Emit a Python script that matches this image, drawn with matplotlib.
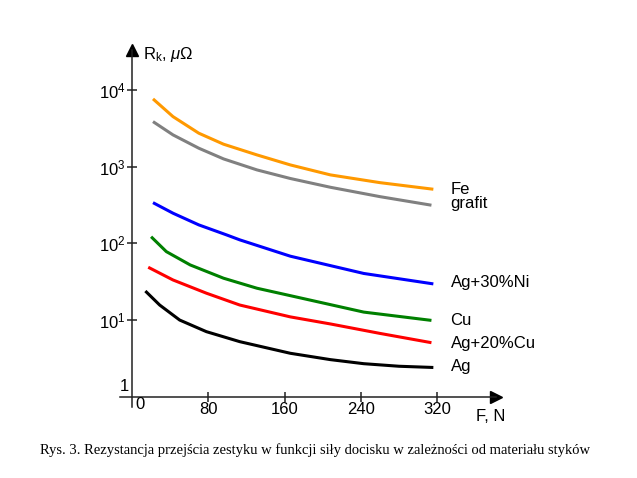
import numpy as np
import matplotlib
matplotlib.use("Agg")
import matplotlib.pyplot as plt

plt.rcParams["font.family"] = ["Liberation Sans", "DejaVu Sans"]
plt.rcParams["mathtext.fontset"] = "custom"
plt.rcParams["mathtext.rm"] = "Liberation Sans"
plt.rcParams["mathtext.it"] = "Liberation Sans:italic"

# force F [N] for each material, and contact resistance Rk [micro-ohm]
fe_f = [22, 43, 70, 96, 131, 166, 208, 260, 316]
fe_r = [7630, 4480, 2727, 1959, 1421, 1052, 780, 618, 507]

grafit_f = [22, 43, 70, 96, 131, 166, 208, 260, 314]
grafit_r = [3860, 2590, 1738, 1260, 906, 700, 538, 406, 314]

ni_f = [22, 43, 70, 99, 113, 166, 243, 316]
ni_r = [339, 247, 174, 129, 111, 68, 40.5, 29.6]

cu_f = [20, 36, 61, 96, 131, 166, 243, 314]
cu_r = [122, 78, 52.3, 35.1, 26, 20.8, 12.7, 9.9]

agcu_f = [17, 43, 78, 113, 166, 208, 260, 314]
agcu_r = [48.8, 33.3, 22.4, 15.7, 11.0, 8.9, 6.7, 5.07]

ag_f = [14, 29, 50, 78, 113, 166, 208, 243, 280, 316]
ag_r = [23.9, 15.7, 10.0, 7.06, 5.23, 3.69, 3.05, 2.7, 2.5, 2.41]

series = [
    ("Fe", fe_f, fe_r, "#FF9900"),
    ("grafit", grafit_f, grafit_r, "#808080"),
    ("Ag+30%Ni", ni_f, ni_r, "#0000FF"),
    ("Cu", cu_f, cu_r, "#008000"),
    ("Ag+20%Cu", agcu_f, agcu_r, "#FF0000"),
    ("Ag", ag_f, ag_r, "#000000"),
]
label_y = [497, 326, 30.5, 10, 4.88, 2.45]

fig = plt.figure(figsize=(6.37, 4.78), dpi=100)
ax = fig.add_axes([120 / 637, 71 / 478, 376 / 637, 357 / 478])

for (name, f, r, col), ly in zip(series, label_y):
    ax.plot(f, r, color=col, lw=2.2, solid_capstyle="butt", solid_joinstyle="round")
    ax.text(334, ly, name, fontsize=12, va="center", ha="left")

ax.set_yscale("log")
ax.set_xlim(-12.6, 381.7)
ax.set_ylim(0.736, 33100)

for s in ["top", "right"]:
    ax.spines[s].set_visible(False)
ax.spines["left"].set_position(("data", 0))
ax.spines["bottom"].set_position(("data", 1))
for s in ["left", "bottom"]:
    ax.spines[s].set_color("#222222")
    ax.spines[s].set_linewidth(1.1)

ax.set_xticks([80, 160, 240, 320])
ax.set_xticklabels(["80", "160", "240", "320"])
ax.set_yticks([10, 100, 1000, 10000])
ax.set_yticklabels(["$10^1$", "$10^2$", "$10^3$", "$10^4$"])
ax.minorticks_off()
ax.tick_params(direction="inout", length=7, width=1.1, color="#222222",
               labelsize=12, pad=0)
ax.tick_params(axis="y", pad=1)

ax.text(8.4, 1, "0", fontsize=12, ha="center", va="top")
ax.text(-3, 1.35, "1", fontsize=12, ha="right", va="center")

# axis arrows
ax.plot(0, 1, marker="^", ms=9, color="black", transform=ax.get_xaxis_transform(), clip_on=False)
ax.plot(1, 1, marker=">", ms=9, color="black", transform=ax.get_yaxis_transform(), clip_on=False)

ax.text(11.5, 28600, r"R$_\mathrm{k}$, $\mu\Omega$", fontsize=12, ha="left", va="center")
ax.text(361, 0.55, "F, N", fontsize=12, ha="left", va="center")

fig.text(315 / 637, 1 - 450 / 478,
         "Rys. 3. Rezystancja przejścia zestyku w funkcji siły docisku w zależności od materiału styków",
         fontsize=10.5, ha="center", va="center", family="Liberation Serif")

fig.savefig("out.png", dpi=100)
